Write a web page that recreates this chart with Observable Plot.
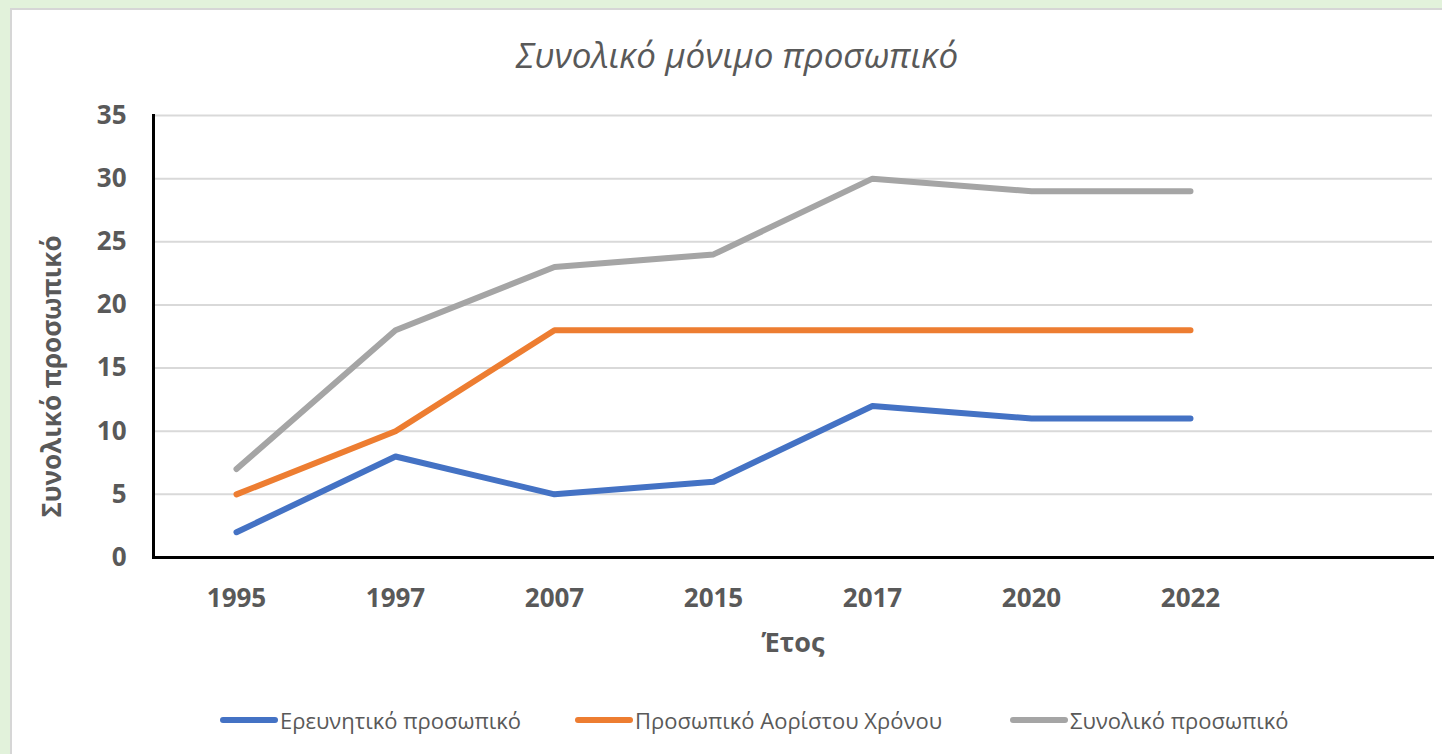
<!DOCTYPE html>
<html>
<head>
<meta charset="utf-8">
<script src="https://cdn.jsdelivr.net/npm/d3@7"></script>
<script src="https://cdn.jsdelivr.net/npm/@observablehq/plot@0.6"></script>
<style>
  html, body { margin: 0; padding: 0; }
  body { width: 1442px; height: 754px; background: #e2f2db; position: relative; overflow: hidden; font-family: "Open Sans", sans-serif; }
  #panel { position: absolute; left: 10px; top: 8px; width: 1432px; height: 746px; background: #fff; box-sizing: border-box; border-top: 2px solid #d6d6d6; border-left: 2px solid #d6d6d6; }
  #title { height: 64px; box-sizing: border-box; padding-top: 24px; text-align: center; font-size: 35px; line-height: 42px; font-style: italic; color: #595959; padding-left: 20px; white-space: nowrap; }
  #chart svg { display: block; }
  #legend { position: relative; height: 80px; font-size: 22px; color: #595959; }
  .item { position: absolute; top: 0; height: 80px; display: flex; align-items: center; white-space: nowrap; }
  .swatch { width: 58px; height: 6px; border-radius: 3px; margin-right: 2px; }
</style>
</head>
<body>
<div id="panel">
  <div id="title">Συνολικό μόνιμο προσωπικό</div>
  <div id="chart"></div>
  <div id="legend"></div>
</div>
<script>
const years = ["1995", "1997", "2007", "2015", "2017", "2020", "2022"];
const seriesNames = ["Ερευνητικό προσωπικό", "Προσωπικό Αορίστου Χρόνου", "Συνολικό προσωπικό"];
const researchStaff = [2, 8, 5, 6, 12, 11, 11];
const permanentStaff = [5, 10, 18, 18, 18, 18, 18];
const totalStaff = [7, 18, 23, 24, 30, 29, 29];
const colors = ["#4472c4", "#ed7d31", "#a5a5a5"];
const yTicks = [0, 5, 10, 15, 20, 25, 30, 35];

const seriesValues = [researchStaff, permanentStaff, totalStaff];
const rows = [];
seriesNames.forEach((name, s) => {
  years.forEach((yr, i) => rows.push({series: name, year: yr, value: seriesValues[s][i]}));
});

const PAD = "__pad__";
const fontAxis = "Open Sans, sans-serif";

const chart = Plot.plot({
  width: 1430,
  height: 606,
  marginLeft: 141,
  marginRight: 10,
  marginTop: 41,
  marginBottom: 123,
  style: {fontFamily: fontAxis, background: "transparent", overflow: "visible"},
  x: {type: "point", domain: [...years, PAD], padding: 0.5, align: 0.5, label: null},
  y: {domain: [0, 35], label: null},
  color: {domain: seriesNames, range: colors},
  marks: [
    Plot.gridY(yTicks, {stroke: "#d9d9d9", strokeOpacity: 1, strokeWidth: 2}),
    Plot.axisY(yTicks, {tickSize: 0, tickPadding: 27, fontSize: 26, fontWeight: "bold", fill: "#595959", label: null}),
    Plot.axisX({tickSize: 0, tickPadding: 31, fontSize: 26, fontWeight: "bold", fill: "#595959", label: null, tickFormat: d => d === PAD ? "" : d}),
    Plot.lineY(rows, {x: "year", y: "value", z: "series", stroke: "series", strokeWidth: 6, strokeLinecap: "round", strokeLinejoin: "round"}),
    Plot.frame({anchor: "left", stroke: "#000", strokeWidth: 3}),
    Plot.frame({anchor: "bottom", stroke: "#000", strokeWidth: 3}),
    Plot.text(["Έτος"], {frameAnchor: "bottom", dy: 86, fontSize: 27, fontWeight: "bold", fill: "#595959", lineAnchor: "middle"}),
    Plot.text(["Συνολικό προσωπικό"], {frameAnchor: "left", rotate: -90, dx: -101, dy: 40, fontSize: 26, fontWeight: "bold", fill: "#595959", lineAnchor: "middle", textAnchor: "middle"})
  ]
});
document.getElementById("chart").appendChild(chart);

const legendLefts = [208, 563, 998];
const legend = document.getElementById("legend");
seriesNames.forEach((name, i) => {
  const item = document.createElement("div");
  item.className = "item";
  item.style.left = legendLefts[i] + "px";
  const sw = document.createElement("div");
  sw.className = "swatch";
  sw.style.background = colors[i];
  const label = document.createElement("span");
  label.textContent = name;
  item.appendChild(sw);
  item.appendChild(label);
  legend.appendChild(item);
});
</script>
</body>
</html>
